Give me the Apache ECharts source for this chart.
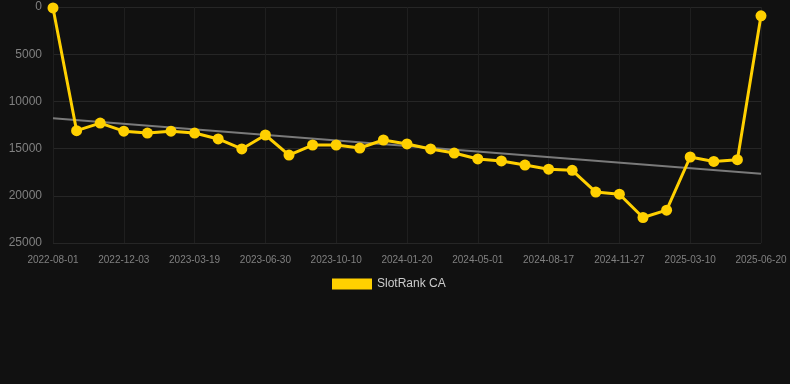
<!DOCTYPE html>
<html>
<head>
<meta charset="utf-8">
<script src="https://cdn.jsdelivr.net/npm/echarts@6/dist/echarts.min.js"></script>
<style>
html,body{margin:0;padding:0;background:#111111;}
#c{width:790px;height:384px;}
</style>
</head>
<body>
<div id="c"></div>
<script>
const categories = [
  "2022-08-01","2022-09-12","2022-10-23","2022-12-03","2023-01-07","2023-02-12",
  "2023-03-19","2023-04-25","2023-05-23","2023-06-30","2023-08-05","2023-09-06",
  "2023-10-10","2023-11-13","2023-12-17","2024-01-20","2024-02-24","2024-03-28",
  "2024-05-01","2024-06-06","2024-07-12","2024-08-17","2024-09-24","2024-10-21",
  "2024-11-27","2024-12-31","2025-02-04","2025-03-10","2025-04-15","2025-05-18",
  "2025-06-20"
];
const rankValues = [
  100, 13100, 12300, 13150, 13350, 13150,
  13350, 13980, 15040, 13560, 15680, 14620,
  14620, 14940, 14090, 14510, 15040, 15470,
  16100, 16310, 16740, 17180, 17300, 19600,
  19830, 22300, 21520, 15890, 16360, 16170,
  930
];
const trendStart = 11790;
const trendEnd = 17660;
const yTicks = [0, 5000, 10000, 15000, 20000, 25000];

const chart = echarts.init(document.getElementById('c'), null, {renderer:'canvas'});
chart.setOption({
  backgroundColor: '#111111',
  animation: false,
  grid: {left: 53, right: 29, top: 7, bottom: 141},
  legend: {
    data: ['SlotRank CA'],
    top: 273,
    left: 327,
    itemWidth: 40,
    itemHeight: 11,
    itemGap: 10,
    textStyle: {color: '#cccccc', fontSize: 12, fontFamily: 'Arial, Liberation Sans, sans-serif'},
    icon: 'rect'
  },
  xAxis: {
    type: 'category',
    data: categories,
    boundaryGap: false,
    axisLine: {show: false},
    axisTick: {show: false},
    axisLabel: {interval: 2, color: '#808080', fontSize: 10, margin: 12, fontFamily: 'Arial, Liberation Sans, sans-serif'},
    splitLine: {show: true, interval: 2, lineStyle: {color: '#1f1f1f', width: 1}}
  },
  yAxis: {
    type: 'value',
    inverse: true,
    min: yTicks[0],
    max: yTicks[yTicks.length - 1],
    interval: 5000,
    axisLine: {show: false},
    axisTick: {show: false},
    axisLabel: {color: '#808080', fontSize: 12, margin: 11, fontFamily: 'Arial, Liberation Sans, sans-serif',
      formatter: function (v) { return String(v); }},
    splitLine: {show: true, lineStyle: {color: '#262626', width: 1}}
  },
  series: [{
    name: 'SlotRank CA',
    type: 'line',
    data: rankValues,
    symbol: 'circle',
    symbolSize: 11,
    lineStyle: {color: '#FFD000', width: 3},
    itemStyle: {color: '#FFD000'},
    z: 3,
    markLine: {
      silent: true,
      symbol: ['none', 'none'],
      label: {show: false},
      lineStyle: {color: '#7a7a7a', width: 2, type: 'solid'},
      data: [[
        {coord: [categories[0], trendStart]},
        {coord: [categories[categories.length - 1], trendEnd]}
      ]],
      z: 2
    }
  }]
});
</script>
</body>
</html>
